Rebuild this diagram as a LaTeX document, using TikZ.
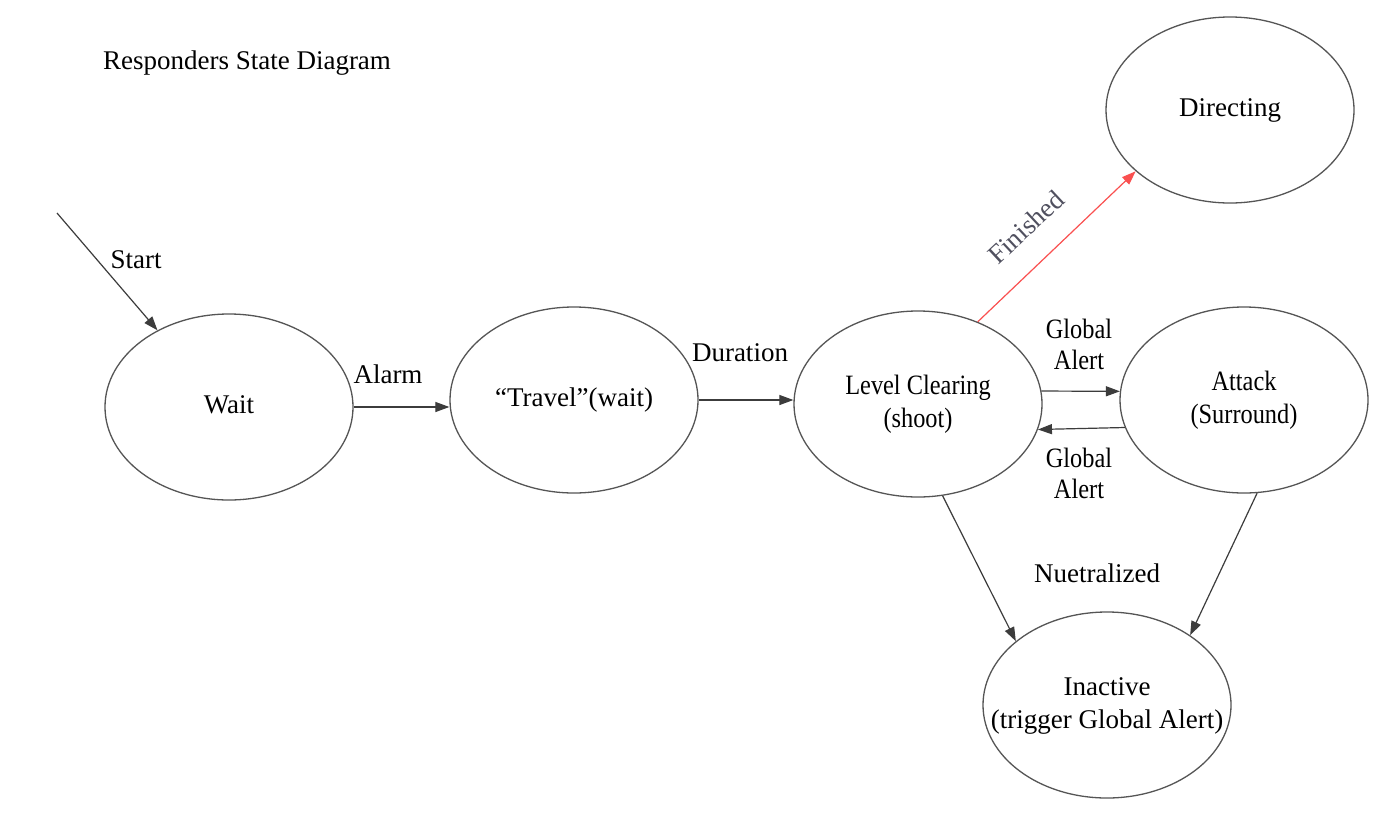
\documentclass[tikz,border=0pt]{standalone}
\usepackage{fontspec}
\newfontfamily\serifmain{Liberation Serif}
\newfontfamily\narrowserif{Liberation Serif}[FakeStretch=0.87]
\usetikzlibrary{arrows.meta,shapes.geometric}
\definecolor{redline}{RGB}{250,80,80}
\definecolor{edgegray}{RGB}{60,60,60}
\definecolor{ringgray}{RGB}{85,85,85}
\definecolor{labelgray}{RGB}{80,80,95}
\newcommand{\zw}[1]{\makebox[0pt]{\begin{tabular}{@{}c@{}}#1\end{tabular}}}
\begin{document}
\begin{tikzpicture}[x=1pt,y=-1pt,
  state/.style={ellipse,draw=ringgray,line width=1.3pt,minimum width=248pt,minimum height=186pt,inner sep=0pt,font=\serifmain\fontsize{27}{33}\selectfont},
  narrowstate/.style={state,font=\narrowserif\fontsize{28}{33}\selectfont},
  lbl/.style={font=\serifmain\fontsize{27}{32}\selectfont,align=center,inner sep=0pt},
  narrowlbl/.style={lbl,font=\narrowserif\fontsize{28}{31}\selectfont},
  tr/.style={-{Triangle[length=14pt,width=10pt]},draw=edgegray,line width=1.2pt},
]
\useasboundingbox (0,0) rectangle (1399,817);
\fill[white] (0,0) rectangle (1399,817);

\node[lbl] (title) at (247,63) {Responders State Diagram};

\node[state] (wait) at (229,407) {\zw{Wait}};
\node[state] (travel) at (574,400) {\zw{“Travel”(wait)}};
\node[narrowstate] (level) at (918,404) {\zw{Level Clearing\\(shoot)}};
\node[narrowstate] (attack) at (1244,400) {\zw{Attack\\(Surround)}};
\node[state] (dir) at (1230,110) {\zw{Directing}};
\node[state] (inact) at (1107,705) {\zw{Inactive\\(trigger Global Alert)}};

\coordinate (start) at (57,213);

\draw[tr] (start) -- (wait.133);
\draw[tr] (wait.east) -- (travel.west |- wait.east);
\draw[tr] (travel.east) -- (level.west |- travel.east);
\draw[tr] (level.6) -- (attack.176);
\draw[tr] (attack.193) -- (level.348);
\draw[tr] (level.285) -- (inact.145);
\draw[tr] (attack.278) -- (inact.40);
\draw[tr,draw=redline] (level.54) -- (dir.213.6);

\node[lbl] (lstart) at (136,260) {Start};
\node[lbl] (lalarm) at (388,374) {Alarm};
\node[lbl] (ldur) at (740,353) {Duration};
\node[narrowlbl] (lga1) at (1079,344) {Global\\Alert};
\node[narrowlbl] (lga2) at (1079,473) {Global\\Alert};
\node[lbl] (lneu) at (1097,573) {Nuetralized};
\node[lbl,text=labelgray,rotate=43] (lfin) at (1026,227) {Finished};
\end{tikzpicture}
\end{document}
